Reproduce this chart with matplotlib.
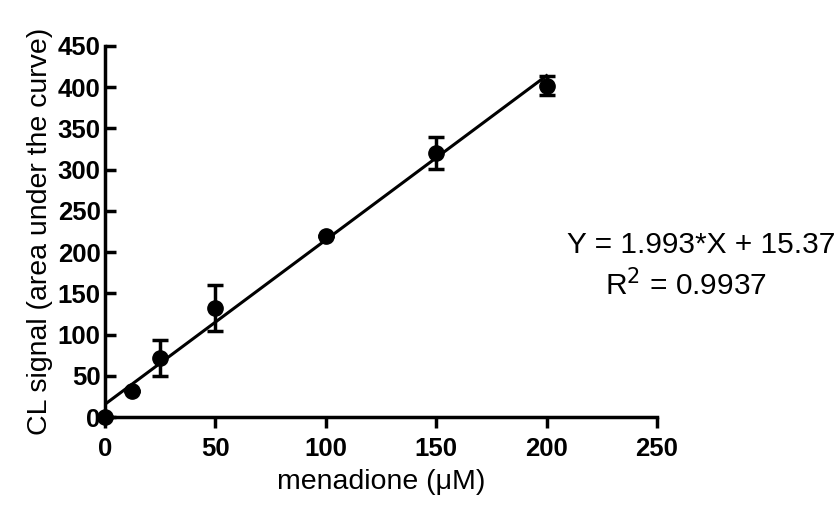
import matplotlib
matplotlib.use("Agg")
import matplotlib.pyplot as plt
import numpy as np

plt.rcParams['font.family'] = ['Liberation Sans', 'DejaVu Sans']

# datos
conc = [0, 12.5, 25, 50, 100, 150, 200]
senal = [0, 32, 72, 132, 220, 320, 402]
err_inf = [0, 0, 22, 27, 0, 19, 12]
err_sup = [0, 0, 21, 28, 0, 20, 12]

pendiente = 1.993
intercepto = 15.37
r2 = 0.9937

fig = plt.figure(figsize=(8.38, 5.05), dpi=100)
ax = fig.add_axes([0.125, 0.174, 0.659, 0.735])

x_fit = np.array([0, 200])
ax.plot(x_fit, pendiente * x_fit + intercepto, color='black', linewidth=2.2, zorder=3)

ax.errorbar(conc, senal, yerr=[err_inf, err_sup], fmt='o', color='black',
            markersize=11, elinewidth=2.5, capsize=6, capthick=2.5, zorder=4,
            clip_on=False)

ax.set_xlim(0, 250)
ax.set_ylim(0, 450)
ax.set_xticks(np.arange(0, 251, 50))
ax.set_yticks(np.arange(0, 451, 50))

for s in ['top', 'right']:
    ax.spines[s].set_visible(False)
for s in ['left', 'bottom']:
    ax.spines[s].set_linewidth(2.5)

ax.tick_params(axis='x', direction='out', length=8, width=2.5, labelsize=18.5, pad=6)
ax.tick_params(axis='y', direction='in', length=8, width=2.5, labelsize=18.5, pad=3)
for lab in ax.get_xticklabels() + ax.get_yticklabels():
    lab.set_fontweight('bold')

ax.set_xlabel('menadione (\u03bcM)', fontsize=20.5, labelpad=6)
ax.set_ylabel('CL signal (area under the curve)', fontsize=20.5, labelpad=3)

fig.text(0.997, 0.515, 'Y = 1.993*X + 15.37', fontsize=21.5, ha='right', va='center')
fig.text(0.818, 0.435, f'R$^2$ = {r2}', fontsize=21.5, ha='center', va='center')

fig.savefig('out.png', dpi=100)
